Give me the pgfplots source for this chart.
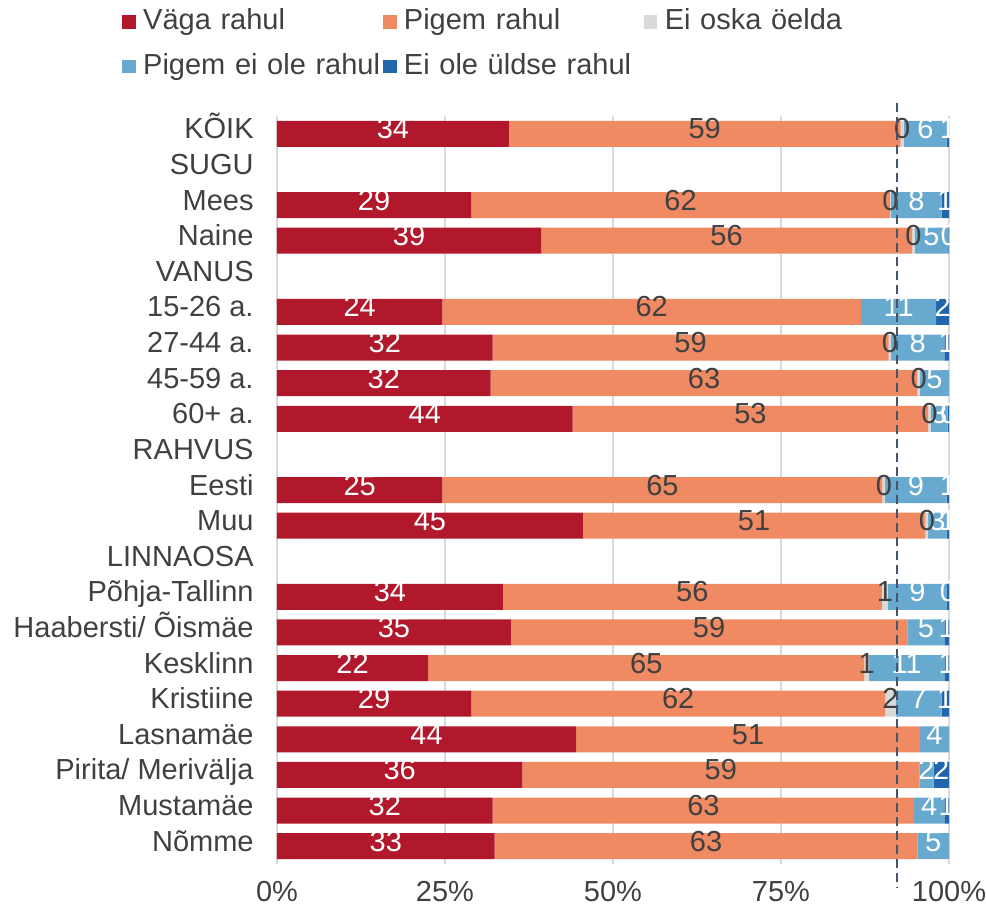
\documentclass[border=0pt]{standalone}
\usepackage{fontspec}
\setmainfont{Liberation Sans}
\usepackage{pgfplots}
\usepackage{pgfplotstable}
\pgfplotsset{compat=1.18}
\definecolor{cR}{HTML}{B2182B}
\definecolor{cO}{HTML}{EF8A62}
\definecolor{cG}{HTML}{D9D9D9}
\definecolor{cB}{HTML}{67A9CF}
\definecolor{cD}{HTML}{2166AC}
\definecolor{txt}{HTML}{404040}
\definecolor{gridc}{HTML}{D9D9D9}
\definecolor{dashc}{HTML}{44546A}
\newcommand{\fs}{\fontsize{14.5}{17}\selectfont}
% y = row (0 = top); r,o,g,b,d = plotted shares; l* = printed labels (-1 = no label)
\pgfplotstableread{
y  r    o    g   b    d    lr lo lg lb ld
0  34.5 58.3 0.5 6.35 0.35 34 59 0  6  1
2  28.9 62.3 0.2 7.5  1.1  29 62 0  8  1
3  39.3 55.2 0.4 5.0  0.1  39 56 0  5  0
5  24.6 62.3 0   11.2 1.9  24 62 -1 11 2
6  32.1 58.9 0.4 7.9  0.7  32 59 0  8  1
7  31.8 63.5 0.4 4.3  0    32 63 0  5  -1
8  44.0 52.9 0.4 2.5  0.2  44 53 0  3  0
10 24.6 65.5 0.4 9.15 0.35 25 65 0  9  1
11 45.5 51.0 0.4 2.75 0.35 45 51 0  3  1
13 33.6 56.4 0.9 8.8  0.3  34 56 1  9  0
14 34.8 59.0 0   5.5  0.7  35 59 -1 5  1
15 22.5 64.9 0.7 11.2 0.7  22 65 1  11 1
16 28.9 61.6 1.6 6.8  1.1  29 62 2  7  1
17 44.5 51.2 0   4.3  0    44 51 -1 4  -1
18 36.5 59.1 0   2.1  2.3  36 59 -1 2  2
19 32.1 62.7 0   4.5  0.7  32 63 -1 4  1
20 32.4 62.9 0   4.7  0    33 63 -1 5  -1
}\data
\begin{document}
\begin{tikzpicture}
\useasboundingbox (0,0) rectangle (493pt,452.5pt);
\begin{axis}[
  at={(138.5pt,20.5pt)}, anchor=south west,
  scale only axis, width=336pt, height=374pt,
  xbar stacked, bar width=13pt,
  xmin=0, xmax=100, ymin=-0.5, ymax=20.5, y dir=reverse,
  axis line style={draw=none},
  major tick length=0pt,
  xmajorgrids, grid style={color=gridc, line width=0.75pt},
  xtick={0,25,50,75,100},
  xticklabels={0\%,25\%,50\%,75\%,100\%},
  ytick={0,...,20},
  yticklabels={KÕIK,SUGU,Mees,Naine,VANUS,15-26 a.,27-44 a.,45-59 a.,60+ a.,RAHVUS,Eesti,Muu,LINNAOSA,Põhja-Tallinn,Haabersti/ Õismäe,Kesklinn,Kristiine,Lasnamäe,Pirita/ Merivälja,Mustamäe,Nõmme},
  tick label style={font=\fs, text=txt},
  yticklabel style={anchor=base east, inner xsep=0pt, xshift=-11.5pt, yshift=-2.5pt},
  xticklabel style={anchor=north, inner ysep=0pt, yshift=-8.5pt},
  /pgf/number format/assume math mode=true,
  point meta=explicit,
  nodes near coords={\pgfmathfloatifflags{\pgfplotspointmeta}{2}{}{\pgfmathprintnumber{\pgfplotspointmeta}}},
  nodes near coords align={anchor=base},
  every node near coord/.append style={anchor=base, inner sep=0pt, font=\fs, yshift=-2.5pt},
  legend columns=3,
  legend cell align=left,
  legend image code/.code={\fill[#1] (0pt,-3pt) rectangle (6.75pt,3.75pt); \path (10.4pt,0pt);},
  legend style={at={(-0.2307,1.1455)}, anchor=north west, draw=none, fill=none,
    inner sep=0pt, column sep=0pt, row sep=7.4pt, font=\fs, text=txt,
    nodes={text width=120pt, align=left, inner xsep=0pt, inner ysep=0pt, text height=11pt, text depth=4pt}},
]
\addplot[fill=cR, draw=none, every node near coord/.append style={text=white}] table[x=r, y=y, meta=lr]{\data};
\addplot[fill=cO, draw=none, every node near coord/.append style={text=txt}] table[x=o, y=y, meta=lo]{\data};
\addplot[fill=cG, draw=none, every node near coord/.append style={text=txt}] table[x=g, y=y, meta=lg]{\data};
\addplot[fill=cB, draw=none, every node near coord/.append style={text=white}] table[x=b, y=y, meta=lb]{\data};
\addplot[fill=cD, draw=none, every node near coord/.append style={text=white}] table[x=d, y=y, meta=ld]{\data};
\legend{Väga rahul, Pigem rahul, Ei oska öelda, Pigem ei ole rahul, Ei ole üldse rahul}
\end{axis}
\begin{axis}[
  at={(138.5pt,20.5pt)}, anchor=south west,
  scale only axis, width=336pt, height=374pt,
  xmin=0, xmax=100, ymin=-0.5, ymax=20.5, y dir=reverse,
  hide axis, clip=false,
]
\addplot[color=dashc, line width=0.85pt, dash pattern=on 4.5pt off 2.5pt, mark=none] coordinates {(92.3,-0.865) (92.3,21.15)};
\end{axis}
\end{tikzpicture}
\end{document}
